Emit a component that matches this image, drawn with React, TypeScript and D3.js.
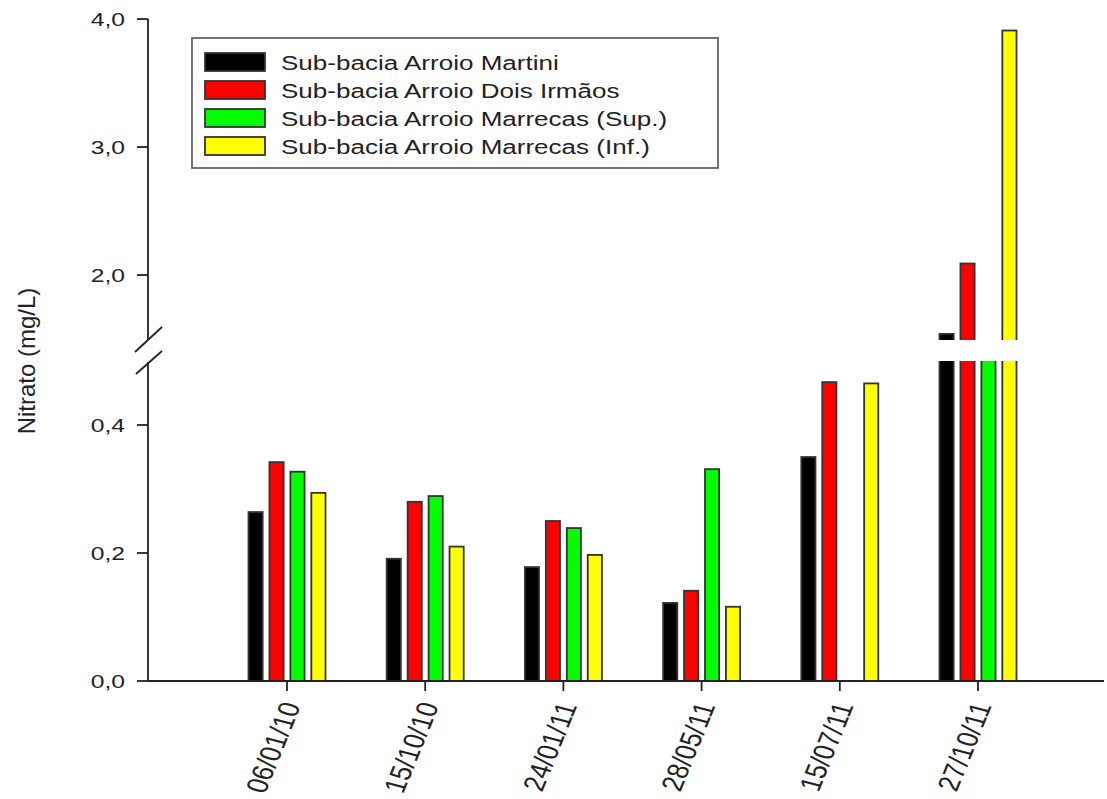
import React from "react";
import * as d3 from "d3";

// Sampling dates (x categories)
const dates = ["06/01/10", "15/10/10", "24/01/11", "28/05/11", "15/07/11", "27/10/11"];

// Nitrate concentration (mg/L) per sub-basin
const seriesNames = [
  "Sub-bacia Arroio Martini",
  "Sub-bacia Arroio Dois Irmãos",
  "Sub-bacia Arroio Marrecas (Sup.)",
  "Sub-bacia Arroio Marrecas (Inf.)",
];
const martini = [0.264, 0.191, 0.178, 0.122, 0.35, 1.54];
const doisIrmaos = [0.342, 0.28, 0.25, 0.141, 0.467, 2.09];
const marrecasSup = [0.327, 0.289, 0.239, 0.331, null, 1.2];
const marrecasInf = [0.294, 0.21, 0.197, 0.116, 0.465, 3.91];
const seriesColors = ["#000000", "#ff0000", "#00ff00", "#ffff00"];

// Broken y axis: two segments with their ticks
const lowerDomain = [0, 0.5];
const upperDomain = [1.5, 4.0];
const lowerTicks = [0, 0.2, 0.4];
const upperTicks = [2, 3, 4];

const W = 1107;
const H = 799;
const axisX = 148;
const axisRight = 1104;
const baseY = 681;
const lowerTop = 361;
const upperBottom = 339;
const upperTop = 19;

const fmt = d3.formatLocale({ decimal: ",", thousands: ".", grouping: [3], currency: ["R$", ""] }).format(".1f");

export default function App() {
  const series = [martini, doisIrmaos, marrecasSup, marrecasInf];
  const x = d3.scalePoint<string>().domain(dates).range([287, 978]);
  const sub = d3
    .scaleBand<number>()
    .domain(d3.range(series.length))
    .range([-38.5, 38.5])
    .paddingInner(0.324)
    .paddingOuter(0);
  const yLow = d3.scaleLinear().domain(lowerDomain).range([baseY, lowerTop]);
  const yUp = d3.scaleLinear().domain(upperDomain).range([upperBottom, upperTop]);

  const bars: React.ReactNode[] = [];
  series.forEach((vals, si) => {
    vals.forEach((v, di) => {
      if (v == null) return;
      const bx = (x(dates[di]) as number) + (sub(si) as number);
      const bw = sub.bandwidth();
      const lowVal = Math.min(v, lowerDomain[1]);
      const topLow = v > lowerDomain[1] ? yLow(lowerDomain[1]) - 6 : yLow(lowVal);
      bars.push(
        <rect key={`l-${si}-${di}`} x={bx} y={topLow} width={bw} height={baseY - topLow}
          fill={seriesColors[si]} stroke="#333" strokeWidth={1.8} />
      );
      if (v > upperDomain[0]) {
        const yt = yUp(v);
        bars.push(
          <rect key={`u-${si}-${di}`} x={bx} y={yt} width={bw} height={upperBottom + 6 - yt}
            fill={seriesColors[si]} stroke="#333" strokeWidth={1.8} />
        );
      }
    });
  });

  const tickLabel = (y: number, t: number, key: string) => (
    <g key={key}>
      <line x1={axisX - 11} x2={axisX} y1={y} y2={y} stroke="#222" strokeWidth={1.8} />
      <g transform={`translate(125,${y}) scale(1.3,1)`}>
        <text textAnchor="end" dy="0.36em" fontSize={19} fill="#222">{fmt(t)}</text>
      </g>
    </g>
  );

  return (
    <svg width={W} height={H} style={{ position: "absolute", left: 0, top: 0, background: "#fff" }}
      fontFamily="'Liberation Sans', Arial, sans-serif">
      <rect width={W} height={H} fill="#fff" />
      {bars}
      {/* gap of the broken axis */}
      <rect x={axisX + 1} y={upperBottom + 1} width={axisRight - axisX} height={lowerTop - upperBottom - 1} fill="#fff" />

      {/* y axis segments */}
      <line x1={axisX} x2={axisX} y1={upperTop} y2={upperBottom + 1} stroke="#222" strokeWidth={1.8} />
      <line x1={axisX} x2={axisX} y1={lowerTop + 1} y2={baseY} stroke="#222" strokeWidth={1.8} />
      <line x1={135} y1={352} x2={162} y2={327} stroke="#222" strokeWidth={1.8} />
      <line x1={136} y1={374} x2={162} y2={351} stroke="#222" strokeWidth={1.8} />
      {upperTicks.map((t) => tickLabel(yUp(t), t, `u${t}`))}
      {lowerTicks.map((t) => tickLabel(yLow(t), t, `l${t}`))}

      {/* x axis */}
      <line x1={axisX} x2={axisRight} y1={baseY} y2={baseY} stroke="#222" strokeWidth={1.8} />
      {dates.map((d) => {
        const px = x(d) as number;
        return (
          <g key={d}>
            <line x1={px} x2={px} y1={baseY} y2={baseY + 10} stroke="#222" strokeWidth={1.8} />
            <g transform={`translate(${px + 4},${703}) scale(1.25,1) rotate(-72)`}>
              <text textAnchor="end" dy="0.35em" fontSize={24} fill="#222">{d}</text>
            </g>
          </g>
        );
      })}

      {/* y axis title */}
      <text transform={`translate(35,361) rotate(-90)`} textAnchor="middle" fontSize={24} fill="#222">
        Nitrato (mg/L)
      </text>

      {/* legend */}
      <rect x={192} y={38} width={526} height={130} fill="#fff" stroke="#666" strokeWidth={1.8} />
      {seriesNames.map((name, i) => {
        const cy = 62 + i * 28;
        return (
          <g key={name}>
            <rect x={205} y={cy - 9} width={60} height={18} fill={seriesColors[i]} stroke="#333" strokeWidth={1.8} />
            <g transform={`translate(281,${cy}) scale(1.24,1)`}>
              <text dy="0.36em" fontSize={21} fill="#222">{name}</text>
            </g>
          </g>
        );
      })}
    </svg>
  );
}
